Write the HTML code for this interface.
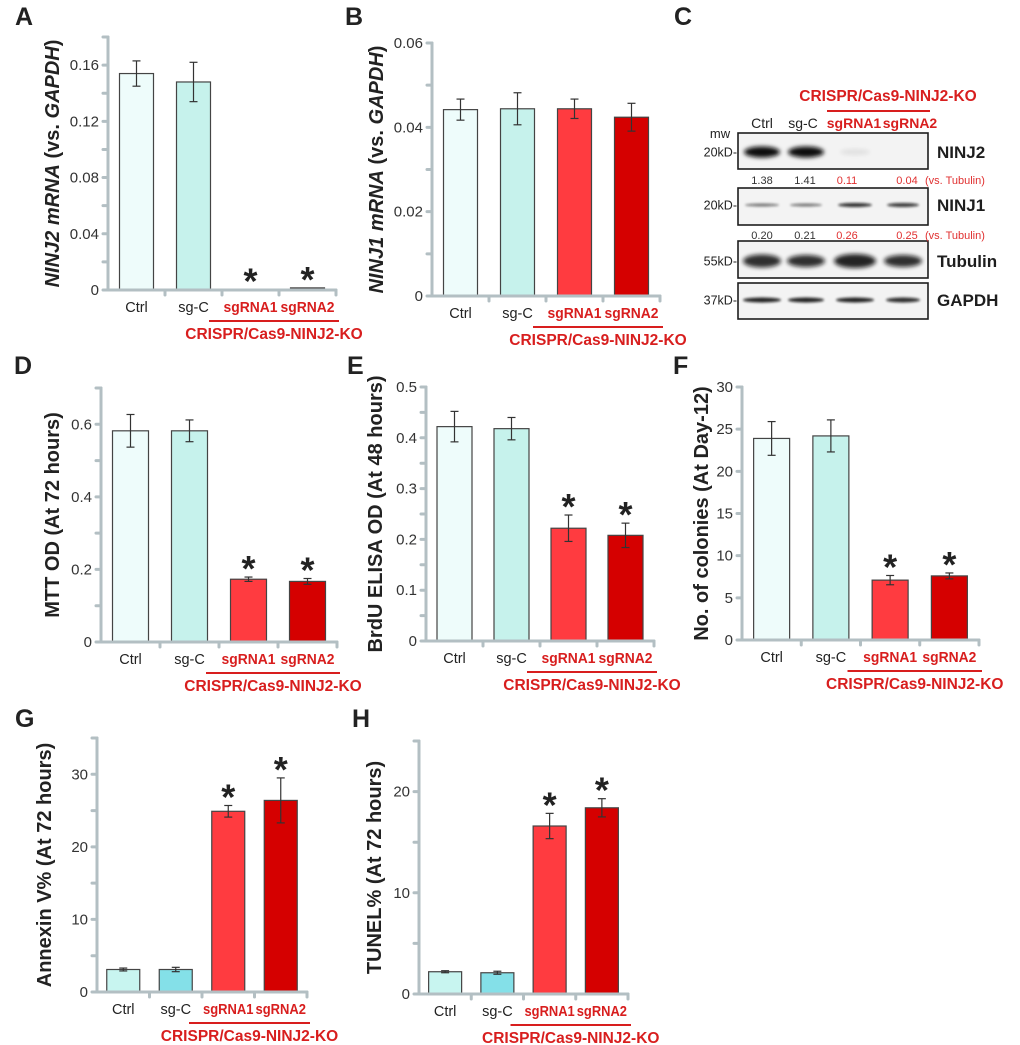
<!DOCTYPE html>
<html><head><meta charset="utf-8">
<style>
html,body{margin:0;padding:0;background:#fff;}
svg{display:block;font-family:"Liberation Sans",Arial,sans-serif;}
</style></head>
<body>
<svg id="fig" width="1020" height="1045" viewBox="0 0 1020 1045" xmlns="http://www.w3.org/2000/svg">
<defs>
<filter id="blur2" x="-30%" y="-80%" width="160%" height="260%"><feGaussianBlur stdDeviation="2"/></filter>
<filter id="blur1" x="-30%" y="-80%" width="160%" height="260%"><feGaussianBlur stdDeviation="1.2"/></filter>
</defs>

<g>
<text x="674" y="25" font-size="25" font-weight="bold" fill="#222">C</text>
<text x="888" y="101" font-size="15.5" font-weight="bold" fill="#d81e1e" text-anchor="middle">CRISPR/Cas9-NINJ2-KO</text>
<line x1="827" y1="111" x2="930" y2="111" stroke="#d81e1e" stroke-width="2"/>
<text x="762" y="128" font-size="14" fill="#222" text-anchor="middle">Ctrl</text>
<text x="803" y="128" font-size="14" fill="#222" text-anchor="middle">sg-C</text>
<text x="854" y="128" font-size="14" font-weight="bold" fill="#d81e1e" text-anchor="middle">sgRNA1</text>
<text x="910" y="128" font-size="14" font-weight="bold" fill="#d81e1e" text-anchor="middle">sgRNA2</text>
<text x="720" y="138" font-size="13" fill="#222" text-anchor="middle">mw</text>
<g id="blot"></g>
</g>

<g id="charts"></g>
</svg>

<script>
const categories = ["Ctrl", "sg-C", "sgRNA1", "sgRNA2"];

const aValues = [0.154, 0.148, 0.0005, 0.0015];
const aErrors = [0.009, 0.014, 0, 0];
const aTicks = [0, 0.04, 0.08, 0.12, 0.16];
const aTickLabels = ["0", "0.04", "0.08", "0.12", "0.16"];
const aMinorTicks = [0.02, 0.06, 0.10, 0.14, 0.18];
const aMax = 0.18;
const aStars = [false, false, true, true];

const bValues = [0.0442, 0.0444, 0.0444, 0.0424];
const bErrors = [0.0025, 0.0038, 0.0023, 0.0033];
const bTicks = [0, 0.02, 0.04, 0.06];
const bTickLabels = ["0", "0.02", "0.04", "0.06"];
const bMinorTicks = [0.01, 0.03, 0.05];
const bMax = 0.06;
const bStars = [false, false, false, false];

const dValues = [0.582, 0.582, 0.173, 0.167];
const dErrors = [0.045, 0.030, 0.006, 0.008];
const dTicks = [0, 0.2, 0.4, 0.6];
const dTickLabels = ["0", "0.2", "0.4", "0.6"];
const dMinorTicks = [0.1, 0.3, 0.5, 0.7];
const dMax = 0.7;
const dStars = [false, false, true, true];

const eValues = [0.422, 0.418, 0.222, 0.208];
const eErrors = [0.030, 0.022, 0.026, 0.024];
const eTicks = [0, 0.1, 0.2, 0.3, 0.4, 0.5];
const eTickLabels = ["0", "0.1", "0.2", "0.3", "0.4", "0.5"];
const eMinorTicks = [0.05, 0.15, 0.25, 0.35, 0.45];
const eMax = 0.5;
const eStars = [false, false, true, true];

const fValues = [23.9, 24.2, 7.1, 7.6];
const fErrors = [2.0, 1.9, 0.55, 0.35];
const fTicks = [0, 5, 10, 15, 20, 25, 30];
const fTickLabels = ["0", "5", "10", "15", "20", "25", "30"];
const fMinorTicks = [];
const fMax = 30;
const fStars = [false, false, true, true];

const gValues = [3.1, 3.1, 24.9, 26.4];
const gErrors = [0.2, 0.3, 0.8, 3.1];
const gTicks = [0, 10, 20, 30];
const gTickLabels = ["0", "10", "20", "30"];
const gMinorTicks = [5, 15, 25, 35];
const gMax = 35;
const gStars = [false, false, true, true];

const hValues = [2.2, 2.1, 16.6, 18.4];
const hErrors = [0.1, 0.15, 1.25, 0.9];
const hTicks = [0, 10, 20];
const hTickLabels = ["0", "10", "20"];
const hMinorTicks = [5, 15, 25];
const hMax = 25;
const hStars = [false, false, true, true];

const ninj2Quant = ["1.38", "1.41", "0.11", "0.04"];
const ninj1Quant = ["0.20", "0.21", "0.26", "0.25"];

const NS = "http://www.w3.org/2000/svg";
function mk(tag, attrs, parent) {
  const el = document.createElementNS(NS, tag);
  for (const k in attrs) el.setAttribute(k, attrs[k]);
  parent.appendChild(el);
  return el;
}

const charts = document.getElementById("charts");
const AXIS = "#b3bfc3";
const RED = "#d81e1e";
const palettes = {
  pale: ["#eefcfb", "#c6f2ec", "#ff3b40", "#d50000"],
  deep: ["#c8f5f0", "#84e0e8", "#ff3b40", "#d50000"]
};

function drawPanel(cfg) {
  const g = mk("g", {}, charts);
  
  
  const yS = v => cfg.y0 - (v / cfg.max) * (cfg.y0 - cfg.top);
  const slot = (cfg.xEnd - cfg.ax) / categories.length;
  const xC = i => cfg.ax + slot * (i + 0.5);

  const L = mk("text", {x: cfg.letterX, y: cfg.letterY, "font-size": 25, "font-weight": "bold", fill: "#222"}, g);
  L.textContent = cfg.id.toUpperCase();
  
  

  cfg.values.forEach((v, i) => {
    const top = yS(v);
    const r = mk("rect", {x: xC(i) - cfg.bw / 2, y: top, width: cfg.bw, height: Math.max(cfg.y0 - top, 0.8),
      fill: cfg.colors[i], stroke: "#444", "stroke-width": 1.2}, g);
    
    
    const e = cfg.errors[i];
    if (e > 0) {
      const eg = mk("g", {stroke: "#333", "stroke-width": 1.2}, g);
      
      
      mk("line", {x1: xC(i), x2: xC(i), y1: yS(v + e), y2: yS(v - e)}, eg);
      mk("line", {x1: xC(i) - 4, x2: xC(i) + 4, y1: yS(v + e), y2: yS(v + e)}, eg);
      mk("line", {x1: xC(i) - 4, x2: xC(i) + 4, y1: yS(v - e), y2: yS(v - e)}, eg);
    }
    if (cfg.stars[i]) {
      const s = mk("text", {x: xC(i), y: yS(v + e) + 4, "font-size": 36, "font-weight": "bold", fill: "#222", "text-anchor": "middle"}, g);
      s.textContent = "*";
      
      
    }
  });

  const ax = mk("g", {stroke: AXIS, "stroke-width": 3, "stroke-linecap": "round"}, g);
  
  
  mk("line", {x1: cfg.ax, x2: cfg.ax, y1: cfg.top, y2: cfg.y0}, ax);
  mk("line", {x1: cfg.ax - 4, x2: cfg.xEnd, y1: cfg.y0, y2: cfg.y0}, ax);
  cfg.ticks.concat(cfg.minor).forEach(t => {
    mk("line", {x1: cfg.ax - 5, x2: cfg.ax, y1: yS(t), y2: yS(t)}, ax);
  });
  for (let i = 1; i <= categories.length; i++) {
    const x = cfg.ax + slot * i;
    mk("line", {x1: x, x2: x, y1: cfg.y0, y2: cfg.y0 + 5}, ax);
  }
  cfg.ticks.forEach((t, i) => {
    const tl = mk("text", {x: cfg.ax - 9, y: yS(t) + 5, "font-size": 15, fill: "#333", "text-anchor": "end"}, g);
    tl.textContent = cfg.tickLabels[i];
    
    
  });

  const ty = (cfg.y0 + cfg.top) / 2;
  const tt = mk("text", {x: cfg.titleX, y: ty, "font-size": 20, "font-weight": "bold", fill: "#222",
    "text-anchor": "middle", transform: "rotate(-90 " + cfg.titleX + " " + ty + ")", "dominant-baseline": "middle"}, g);
  
  
  cfg.title.forEach(p => {
    const sp = mk("tspan", p[1] ? {"font-style": "italic"} : {}, tt);
    sp.textContent = p[0];
  });

  categories.forEach((c, i) => {
    const red = i >= 2;
    const attrs = {x: xC(i), y: cfg.y0 + 22, "font-size": red ? 15 : 14.5, fill: red ? RED : "#222",
      "font-weight": red ? "bold" : "normal", "text-anchor": "middle"};
    if (red) { attrs.textLength = Math.min(54, slot - 2); attrs.lengthAdjust = "spacingAndGlyphs"; }
    const cl = mk("text", attrs, g);
    cl.textContent = c;
    
    
  });
  const lx1 = cfg.ax + slot * 2 - 13, lx2 = cfg.xEnd + 3;
  const rl = mk("line", {x1: lx1, x2: lx2, y1: cfg.y0 + 31, y2: cfg.y0 + 31, stroke: RED, "stroke-width": 2}, g);
  
  
  const cr = mk("text", {x: (lx1 + lx2) / 2, y: cfg.y0 + 49, "font-size": 15.5, "font-weight": "bold", fill: RED, "text-anchor": "middle"}, g);
  cr.textContent = "CRISPR/Cas9-NINJ2-KO";
  
  
}

drawPanel({id: "a", values: aValues, errors: aErrors, ticks: aTicks, tickLabels: aTickLabels, minor: aMinorTicks, max: aMax, stars: aStars,
  ax: 108, y0: 290, top: 37, xEnd: 336, bw: 34, titleX: 54, letterX: 15, letterY: 25, colors: palettes.pale,
  title: [["NINJ2 mRNA", true], [" (vs. ", false], ["GAPDH", true], [")", false]]});
drawPanel({id: "b", values: bValues, errors: bErrors, ticks: bTicks, tickLabels: bTickLabels, minor: bMinorTicks, max: bMax, stars: bStars,
  ax: 432, y0: 296, top: 43, xEnd: 660, bw: 34, titleX: 378, letterX: 345, letterY: 25, colors: palettes.pale,
  title: [["NINJ1 mRNA", true], [" (vs. ", false], ["GAPDH", true], [")", false]]});
drawPanel({id: "d", values: dValues, errors: dErrors, ticks: dTicks, tickLabels: dTickLabels, minor: dMinorTicks, max: dMax, stars: dStars,
  ax: 101, y0: 642, top: 388, xEnd: 337, bw: 36, titleX: 54, letterX: 14, letterY: 374, colors: palettes.pale,
  title: [["MTT OD (At 72 hours)", false]]});
drawPanel({id: "e", values: eValues, errors: eErrors, ticks: eTicks, tickLabels: eTickLabels, minor: eMinorTicks, max: eMax, stars: eStars,
  ax: 426, y0: 641, top: 387, xEnd: 654, bw: 35, titleX: 377, letterX: 347, letterY: 374, colors: palettes.pale,
  title: [["BrdU ELISA OD (At 48 hours)", false]]});
drawPanel({id: "f", values: fValues, errors: fErrors, ticks: fTicks, tickLabels: fTickLabels, minor: fMinorTicks, max: fMax, stars: fStars,
  ax: 742, y0: 640, top: 387, xEnd: 979, bw: 36, titleX: 703, letterX: 673, letterY: 374, colors: palettes.pale,
  title: [["No. of colonies (At Day-12)", false]]});
drawPanel({id: "g", values: gValues, errors: gErrors, ticks: gTicks, tickLabels: gTickLabels, minor: gMinorTicks, max: gMax, stars: gStars,
  ax: 97, y0: 992, top: 738, xEnd: 307, bw: 33, titleX: 46, letterX: 15, letterY: 727, colors: palettes.deep,
  title: [["Annexin V% (At 72 hours)", false]]});
drawPanel({id: "h", values: hValues, errors: hErrors, ticks: hTicks, tickLabels: hTickLabels, minor: hMinorTicks, max: hMax, stars: hStars,
  ax: 419, y0: 994, top: 741, xEnd: 628, bw: 33, titleX: 376, letterX: 352, letterY: 727, colors: palettes.deep,
  title: [["TUNEL% (At 72 hours)", false]]});

const blot = document.getElementById("blot");
const laneX = [762, 806, 855, 903];
const boxes = [
  {name: "ninj2", y: 133, h: 36, label: "NINJ2", mw: "20kD", bandY: 152, bh: [11, 11, 6, 0], op: [1, 1, 0.08, 0], bw: [36, 36, 30, 30], filt: "blur2"},
  {name: "ninj1", y: 188, h: 37, label: "NINJ1", mw: "20kD", bandY: 205, bh: [3, 3, 4, 4], op: [0.55, 0.55, 0.85, 0.8], bw: [34, 32, 34, 32], filt: "blur1"},
  {name: "tubulin", y: 241, h: 37, label: "Tubulin", mw: "55kD", bandY: 261, bh: [13, 12, 14, 12], op: [0.85, 0.85, 0.9, 0.85], bw: [38, 38, 42, 38], filt: "blur2"},
  {name: "gapdh", y: 283, h: 36, label: "GAPDH", mw: "37kD", bandY: 300, bh: [5, 5, 5, 5], op: [0.9, 0.9, 0.9, 0.85], bw: [38, 36, 38, 34], filt: "blur1"}
];
boxes.forEach(b => {
  const g = mk("g", {}, blot);
  
  
  mk("rect", {x: 738, y: b.y, width: 190, height: b.h, fill: "#f3f3f3", stroke: "#1e1e1e", "stroke-width": 1.6}, g);
  laneX.forEach((x, i) => {
    if (b.op[i] > 0) {
      const e = mk("ellipse", {cx: x, cy: b.bandY, rx: b.bw[i] / 2, ry: b.bh[i] / 2, fill: "#111", opacity: b.op[i], filter: "url(#" + b.filt + ")"}, g);
      
      
    }
  });
  const m = mk("text", {x: 737, y: b.bandY + 4.5, "font-size": 12.5, fill: "#222", "text-anchor": "end"}, g);
  m.textContent = b.mw + "-";
  
  
  const l = mk("text", {x: 937, y: b.bandY + 6, "font-size": 17, "font-weight": "bold", fill: "#1e1e1e"}, g);
  l.textContent = b.label;
  
  
});
function quantRow(vals, y, nm) {
  const g = mk("g", {}, blot);
  
  
  const qx = [762, 805, 847, 907];
  vals.forEach((v, i) => {
    const t = mk("text", {x: qx[i], y: y, "font-size": 11, fill: i >= 2 ? "#e03030" : "#333", "text-anchor": "middle"}, g);
    t.textContent = v;
  });
  const t = mk("text", {x: 925, y: y, "font-size": 11, fill: "#e03030"}, g);
  t.textContent = "(vs. Tubulin)";
}
quantRow(ninj2Quant, 184, "ninj2-quantification");
quantRow(ninj1Quant, 239, "ninj1-quantification");
</script>
</body></html>
